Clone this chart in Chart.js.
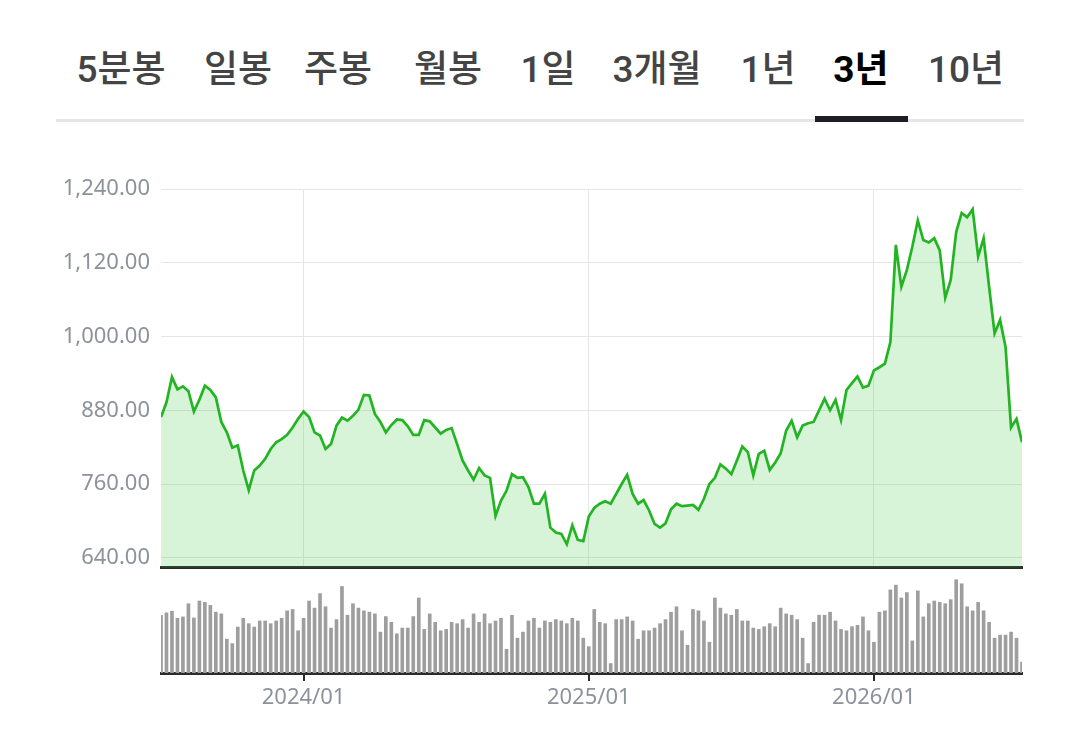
<!DOCTYPE html>
<html>
<head>
<meta charset="utf-8">
<script src="https://cdn.jsdelivr.net/npm/chart.js@4.4.1/dist/chart.umd.min.js"></script>
<style>
  body { margin: 0; background: #fff; width: 1080px; height: 729px; overflow: hidden; position: relative;
         font-family: Roboto, "Noto Sans CJK KR", sans-serif; }
  .tab { position: absolute; top: 48px; transform: translateX(-50%); font-size: 37px; line-height: 44px;
         color: #444; font-weight: 500; white-space: nowrap; }
  .tab.on { color: #000; font-weight: 700; }
  #tabline { position: absolute; left: 56px; top: 119px; width: 968px; height: 3px; background: #e6e6e6; }
  #tabbar { position: absolute; left: 815px; top: 116px; width: 93px; height: 6px; background: #1e1e24; }
  #c1 { position: absolute; left: 0; top: 150px; }
  #c2 { position: absolute; left: 0; top: 570px; }
</style>
</head>
<body>
<div id="tabs"></div>
<div id="tabline"></div>
<div id="tabbar"></div>
<canvas id="c1" width="1080" height="442"></canvas>
<canvas id="c2" width="1080" height="159"></canvas>
<script>
// tabs
var tabNames = ['5분봉', '일봉', '주봉', '월봉', '1일', '3개월', '1년', '3년', '10년'];
var tabCenters = [121, 238, 338, 448, 548, 657, 768, 861, 966];
var activeTab = '3년';

// weekly closes, about three years
var price = [
  869, 893, 934, 914, 919, 911, 878, 897, 920, 913,
  901, 861, 844, 819, 823, 782, 750, 782, 790, 801,
  817, 828, 833, 840, 852, 866, 878, 869, 844, 839,
  817, 825, 855, 868, 863, 871, 881, 905, 904, 874,
  861, 844, 856, 865, 864, 854, 840, 840, 864, 862,
  852, 842, 848, 851, 825, 798, 782, 767, 786, 774,
  770, 708, 733, 749, 776, 770, 771, 755, 728, 728,
  744, 689, 681, 679, 662, 693, 669, 667, 707, 721,
  728, 732, 728, 744, 760, 775, 744, 728, 734, 717,
  695, 689, 696, 719, 728, 724, 725, 726, 718, 736,
  760, 770, 792, 785, 776, 798, 821, 812, 774, 809,
  814, 783, 795, 810, 847, 863, 836, 855, 859, 861,
  880, 899, 880, 897, 864, 913, 924, 935, 917, 920,
  945, 950, 956, 991, 1149, 1081, 1108, 1146, 1189, 1157,
  1153, 1160, 1140, 1063, 1092, 1170, 1201, 1194, 1207, 1130,
  1160, 1081, 1005, 1027, 983, 852, 866, 828
];

// weekly volume (relative)
var volume = [
  171, 178, 183, 162, 166, 205, 163, 213, 209, 200,
  180, 175, 100, 87, 136, 162, 146, 136, 154, 154,
  146, 154, 162, 184, 188, 125, 162, 213, 192, 235,
  196, 133, 158, 256, 171, 205, 192, 184, 180, 175,
  121, 167, 150, 116, 133, 133, 167, 222, 129, 175,
  150, 125, 129, 150, 146, 158, 133, 175, 150, 175,
  146, 154, 162, 70, 171, 103, 121, 154, 162, 133,
  154, 150, 158, 154, 146, 162, 154, 103, 78, 188,
  150, 146, 28, 158, 158, 166, 154, 100, 125, 125,
  133, 146, 158, 180, 196, 125, 82, 188, 184, 154,
  91, 222, 192, 175, 171, 188, 154, 154, 133, 129,
  137, 146, 137, 192, 175, 171, 158, 103, 28, 150,
  171, 171, 180, 154, 129, 125, 137, 141, 166, 125,
  91, 180, 184, 246, 260, 222, 238, 95, 243, 166,
  205, 213, 209, 205, 217, 276, 264, 196, 184, 209,
  184, 150, 103, 112, 112, 121, 103, 32
];

var yearTicks = [26, 78, 130];
var yearLabels = ['2024/01', '2025/01', '2026/01'];
var priceTicks = [640, 760, 880, 1000, 1120, 1240];

var tabs = document.getElementById('tabs');
for (var i = 0; i < tabNames.length; i++) {
  var d = document.createElement('div');
  d.className = 'tab' + (tabNames[i] == activeTab ? ' on' : '');
  d.style.left = tabCenters[i] + 'px';
  d.textContent = tabNames[i];
  tabs.appendChild(d);
}

var last = price.length - 1;
var labelColor = '#8c929b';
var labelFont = { family: '"Noto Sans", sans-serif', size: 22 };

var priceChart = new Chart(document.getElementById('c1'), {
  type: 'line',
  data: {
    datasets: [{
      data: price.map(function(v, i) { return { x: i, y: v }; }),
      borderColor: '#22b422',
      borderWidth: 2.7,
      backgroundColor: 'rgba(60, 200, 60, 0.2)',
      fill: 'start',
      pointRadius: 0,
      tension: 0
    }]
  },
  options: {
    responsive: false,
    animation: false,
    layout: { padding: { top: 39, right: 58, bottom: 3, left: 0 } },
    plugins: { legend: { display: false }, tooltip: { enabled: false } },
    scales: {
      x: {
        type: 'linear', min: 0, max: last,
        afterBuildTicks: function(s) { s.ticks = yearTicks.map(function(v) { return { value: v }; }); },
        afterFit: function(s) { s.height = 0; },
        ticks: { display: false },
        grid: { color: '#e6e6e6', lineWidth: 1, drawTicks: false },
        border: { display: true, color: '#2b2b2b', width: 3 }
      },
      y: {
        min: 623.7, max: 1240,
        afterBuildTicks: function(s) { s.ticks = priceTicks.map(function(v) { return { value: v }; }); },
        afterFit: function(s) { s.width = 161; },
        ticks: {
          padding: 11, color: labelColor, font: labelFont,
          callback: function(v) { return v.toLocaleString('en-US', { minimumFractionDigits: 2, maximumFractionDigits: 2 }); }
        },
        grid: { color: '#e6e6e6', drawTicks: false },
        border: { display: false }
      }
    }
  }
});

var volumeChart = new Chart(document.getElementById('c2'), {
  type: 'bar',
  data: {
    datasets: [{
      data: volume.map(function(v, i) { return { x: i, y: v }; }),
      backgroundColor: '#9e9e9e',
      barThickness: 3
    }]
  },
  options: {
    responsive: false,
    animation: false,
    layout: { padding: { top: 5, right: 58, bottom: 0, left: 161 } },
    plugins: { legend: { display: false }, tooltip: { enabled: false } },
    scales: {
      x: {
        type: 'linear', min: 0, max: last, offset: false,
        afterBuildTicks: function(s) { s.ticks = yearTicks.map(function(v) { return { value: v }; }); },
        afterFit: function(s) { s.height = 56; },
        ticks: {
          padding: 4, color: labelColor, font: labelFont, maxRotation: 0, autoSkip: false,
          callback: function(v) { return yearLabels[yearTicks.indexOf(v)]; }
        },
        grid: { drawOnChartArea: false, tickLength: 8, color: '#2b2b2b', lineWidth: 2, offset: false },
        border: { color: '#2b2b2b', width: 3 }
      },
      y: { display: false, min: 0, max: 290 }
    }
  }
});
</script>
</body>
</html>
